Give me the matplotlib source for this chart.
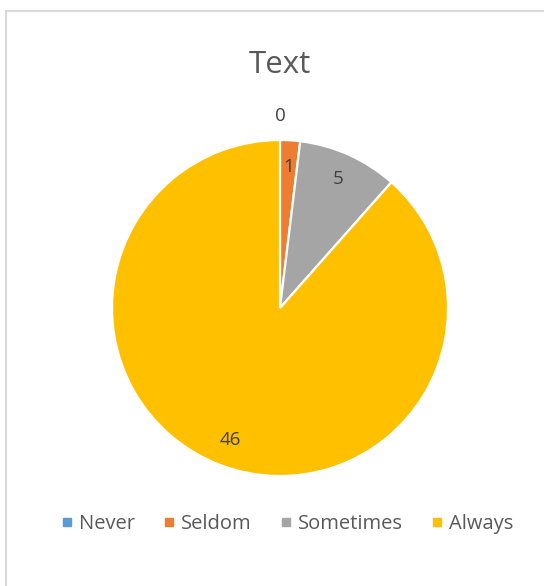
import numpy as np
from matplotlib import pyplot as plt
from matplotlib.lines import Line2D
from matplotlib.patches import Rectangle

categories = ['Never', 'Seldom', 'Sometimes', 'Always']
values = [0, 1, 5, 46]
colors = ['#5B9BD5', '#ED7D31', '#A5A5A5', '#FFC000']

plt.rcParams['font.family'] = ['Open Sans', 'DejaVu Sans']
text_color = '#595959'

W, H = 544, 586
fig = plt.figure(figsize=(W / 100, H / 100), dpi=100)

# chart area border (only left and top visible in the crop)
fig.patches.append(Rectangle((6 / W, -0.1), 1.2, (H - 11) / H + 0.1,
                             transform=fig.transFigure, fill=False,
                             edgecolor='#D9D9D9', linewidth=1.5))

# pie: centre (280, 308) px from top, radius 168 px
cx, cy, r = 280, 308, 168
ax = fig.add_axes([(cx - r) / W, (H - cy - r) / H, 2 * r / W, 2 * r / H])
ax.pie(values, colors=colors, startangle=90, counterclock=False,
       wedgeprops=dict(edgecolor='white', linewidth=1.6))
ax.set_xlim(-1, 1)
ax.set_ylim(-1, 1)
ax.set_aspect('equal')

# data labels
total = sum(values)
cum = np.cumsum([0] + values[:-1])
for v, c in zip(values, cum):
    frac = (c + v / 2) / total
    ang = np.deg2rad(90 - frac * 360)
    dist = 0.84 if v > 0 else 1.14
    ax.text(dist * np.cos(ang), dist * np.sin(ang), str(v),
            ha='center', va='center', fontsize=13.5, color='#404040')

fig.text(cx / W, 1 - 65 / H, 'Text', ha='center', va='center',
         fontsize=22.5, color=text_color)

handles = [Line2D([], [], marker='s', linestyle='', markersize=6,
                  markerfacecolor=col, markeredgecolor=col) for col in colors]
fig.legend(handles, categories, loc='center', ncol=4,
           bbox_to_anchor=(285 / W, 1 - 524 / H), frameon=False,
           fontsize=14.5, labelcolor=text_color, handletextpad=0.1,
           columnspacing=1.2, handlelength=1.0)

fig.savefig('out.png', dpi=100)
